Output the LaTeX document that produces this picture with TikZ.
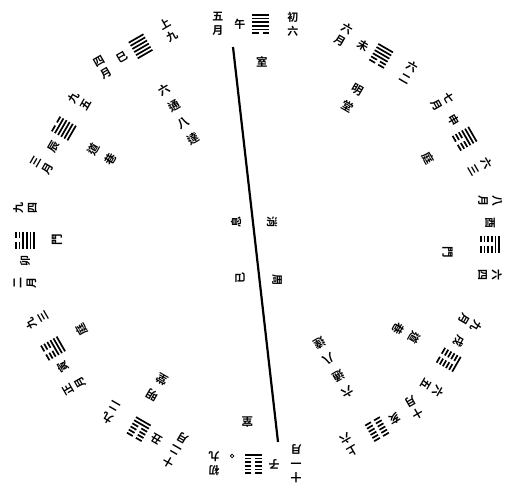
\documentclass[tikz,border=0pt]{standalone}
\usepackage{fontspec}
\setmainfont{Noto Sans CJK TC}[BoldFont={Noto Sans CJK TC Bold}]
\usetikzlibrary{calc}
\tikzset{
  every picture/.style={line width=0.5pt},
  zi/.style={font=\fontsize{11}{14}\selectfont\bfseries, inner sep=0pt, align=center},
  place/.style={zi, font=\fontsize{11.5}{19}\selectfont\bfseries},
  yang/.style={line width=1.7pt},
  axisline/.style={line width=2.2pt},
}
% six lines, bottom first: 1 whole, 0 broken
\newcommand{\gua}[1]{%
  \foreach \b [count=\i] in {#1}{%
    \pgfmathsetmacro{\yy}{(\i-3.5)*3.6}%
    \ifnum\b=1
      \draw[yang] (-8.5,\yy) -- (8.5,\yy);
    \else
      \draw[yang] (-8.5,\yy) -- (-1.8,\yy) (1.8,\yy) -- (8.5,\yy);
    \fi}}
% name, turn, angle, radius, month, branch, lines, yao, yao offset
\newcommand{\yue}[9]{%
  \begin{scope}[shift={(#3:#4)}, rotate=#2-90, transform shape]
    \node[zi] (#1month) at (-43,0) {#5};
    \node[zi] (#1zhi) at (-21,0) {#6};
    \gua{#7}
    \node[zi] (#1yao) at (#9,0) {#8};
  \end{scope}}
\newcommand{\chu}[5]{%
  \node[place, rotate=#2-90] (#1) at (#3:#4) {#5};}

\begin{document}
\begin{tikzpicture}[x=1pt,y=1pt]
  \useasboundingbox (0,0) rectangle (510,488);
  \begin{scope}[shift={(257,248)}]
    \yue{wu}{90}{89}{216}{五\\月}{午}{0,1,1,1,1,1}{初\\六}{32}
    \yue{wei}{60}{56}{222}{六\\月}{未}{0,0,1,1,1,1}{六\\二}{32}
    \yue{shen}{30}{26}{231}{七\\月}{申}{0,0,0,1,1,1}{六\\三}{32}
    \yue{you}{0}{-1}{233}{八\\月}{酉}{0,0,0,0,1,1}{六\\四}{31}
    \yue{xu}{-30}{-32}{226}{九\\月}{戌}{0,0,0,0,0,1}{六\\五}{32}
    \yue{hai}{-60}{-57.6}{224}{十\\月}{亥}{0,0,0,0,0,0}{上\\六}{32}
    \yue{zi}{-90}{-91}{224}{十\\一\\月}{子}{1,0,0,0,0,0}{初\\九}{39}
    \yue{chou}{-120}{-122}{223}{十\\二\\月}{丑}{1,1,0,0,0,0}{九\\二}{32}
    \yue{yin}{-150}{-152}{231}{正\\月}{寅}{1,1,1,0,0,0}{九\\三}{32}
    \yue{mao}{-180}{180}{232}{二\\月}{卯}{1,1,1,1,0,0}{九\\四}{32}
    \yue{chen}{150}{150}{223}{三\\月}{辰}{1,1,1,1,1,0}{九\\五}{32}
    \yue{si}{120}{121}{226}{四\\月}{巳}{1,1,1,1,1,1}{上\\九}{32}
    \begin{scope}[shift={(-91:224)}, rotate=-180]
      \draw[line width=0.8pt] (21,-8) circle (1.8);
    \end{scope}
    \chu{shi}{90}{88.4}{178}{室}
    \chu{mingtang}{60}{56}{171}{明\\堂}
    \chu{ting}{30}{25.6}{190}{庭}
    \chu{men}{0}{-3.6}{191}{門}
    \chu{daoxiang}{-30}{-32}{176}{道\\巷}
    \chu{liutong}{-60}{-59}{149}{六\\通\\八\\達}
    \chu{shib}{-90}{-93}{182}{室}
    \chu{mingtangb}{-120}{-124}{178}{明\\堂}
    \chu{tingb}{-150}{-153}{197}{庭}
    \chu{menb}{-180}{180}{200}{門}
    \chu{daoxiangb}{150}{151}{177}{道\\巷}
    \chu{liutongb}{120}{122}{148}{六\\通\\八\\達}
  \end{scope}
  \coordinate (axtop) at (233,441);
  \coordinate (axbot) at (278,46);
  \draw[axisline] (axtop) -- (axbot);
  \node[zi, rotate=-90] (xiao) at (272,266) {消};
  \node[zi, rotate=-90] (zhou) at (277,208) {周};
  \node[zi, rotate=90] (xi) at (236,266) {息};
  \node[zi, rotate=90] (yi) at (240,210) {已};
\end{tikzpicture}
\end{document}
